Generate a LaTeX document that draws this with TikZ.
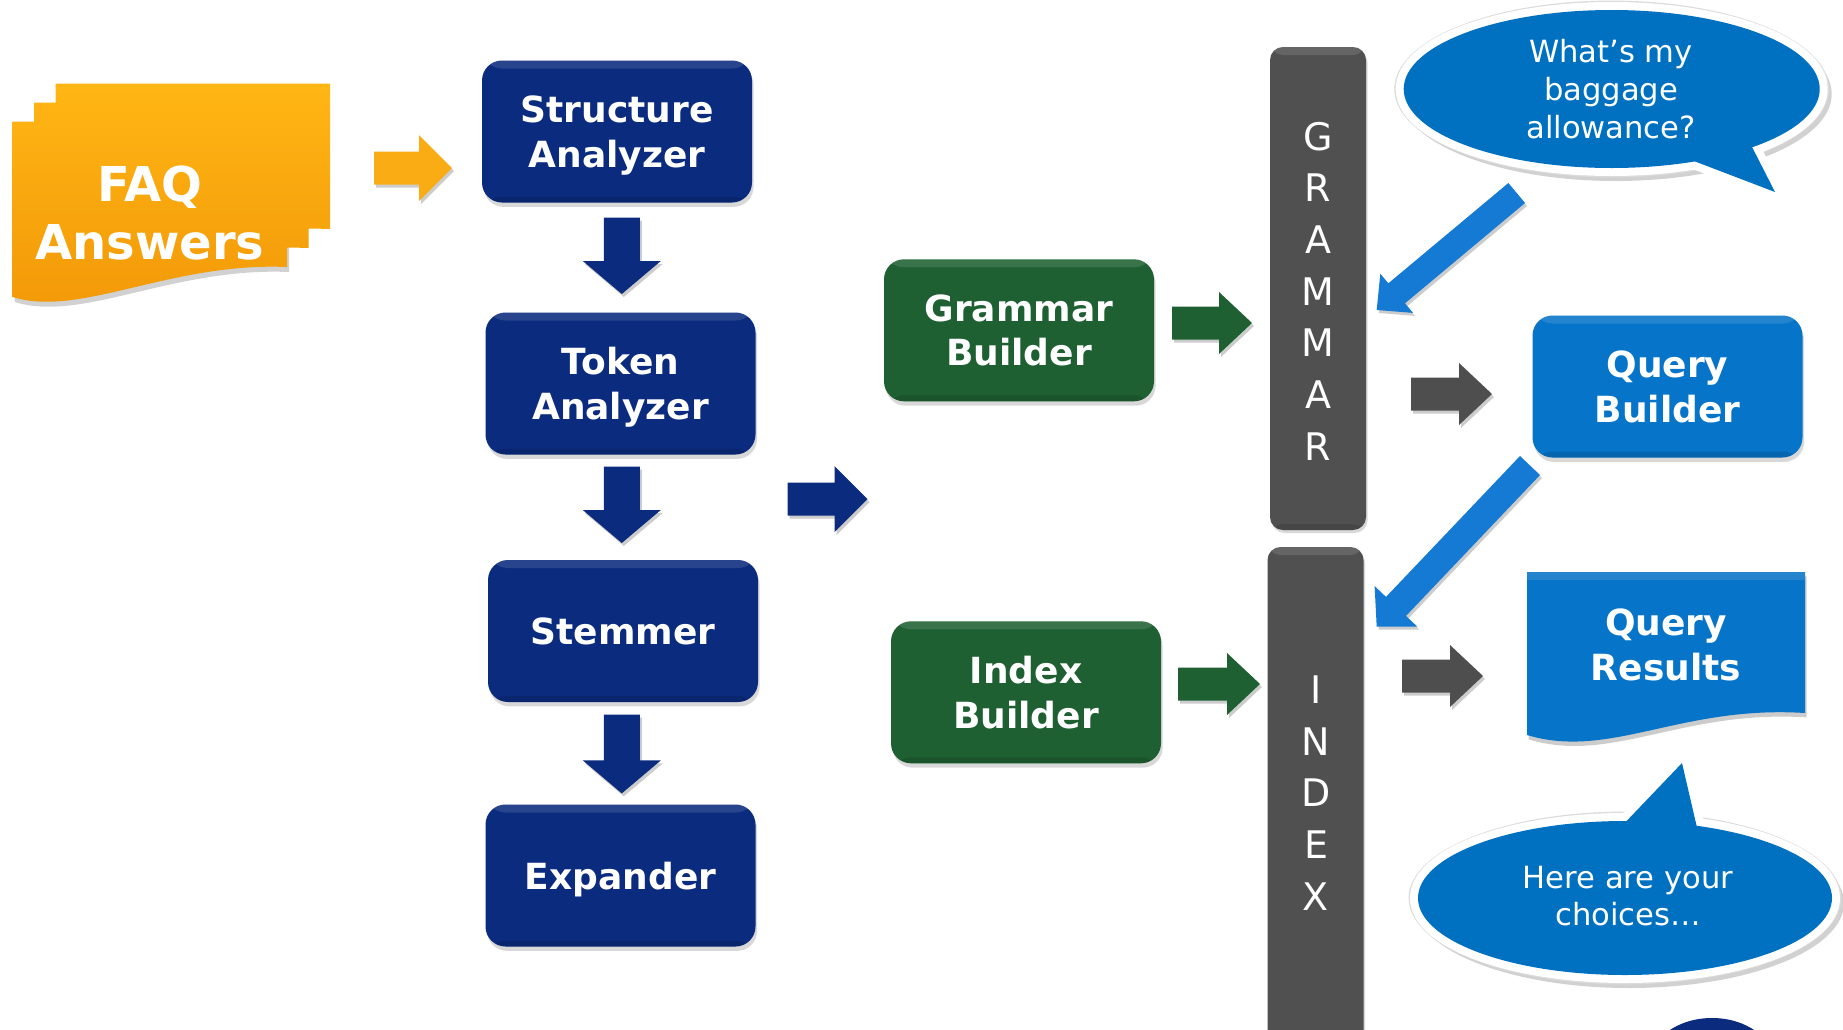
\documentclass[tikz,border=0pt]{standalone}
\usepackage{fontspec}
\setmainfont{DejaVu Sans}
\usetikzlibrary{calc,shadows}
\definecolor{navy}{RGB}{11,43,126}
\definecolor{dgreen}{RGB}{30,96,50}
\definecolor{bargrey}{RGB}{80,80,80}
\definecolor{agrey}{RGB}{78,78,78}
\definecolor{qblue}{RGB}{6,116,200}
\definecolor{bblue}{RGB}{0,112,192}
\definecolor{darrow}{RGB}{20,122,212}
\definecolor{orangeT}{RGB}{255,182,20}
\definecolor{orangeB}{RGB}{242,152,8}
\definecolor{orangeA}{RGB}{250,172,20}

\tikzset{
  bevel/.style={path picture={
    \fill[white, opacity=0.12] (path picture bounding box.north west) rectangle ([yshift=-4pt]path picture bounding box.north east);
    \fill[black, opacity=0.12] ([yshift=3pt]path picture bounding box.south west) rectangle (path picture bounding box.south east);}},
  box/.style={rectangle, rounded corners=10pt, minimum width=135pt, minimum height=71pt,
    text=white, font=\bfseries\fontsize{18}{22.3}\selectfont, align=center, bevel, text depth=0pt,
    drop shadow={shadow xshift=0.8pt, shadow yshift=-2.2pt, opacity=0.3}},
  navybox/.style={box, fill=navy},
  greenbox/.style={box, fill=dgreen},
  qbox/.style={box, fill=qblue},
  bar/.style={rectangle, rounded corners=6.5pt, fill=bargrey, minimum width=48pt, inner sep=0pt, bevel,
    drop shadow={shadow xshift=0.8pt, shadow yshift=-1.5pt, opacity=0.3}},
  barlabel/.style={text=white, font=\fontsize{19}{25.85}\selectfont, align=center, inner sep=0pt},
  bubbletext/.style={text=white, font=\fontsize{15.3}{18.8}\selectfont, align=center, inner sep=0pt},
  doctext/.style={text=white, font=\bfseries\fontsize{18}{22.3}\selectfont, align=center, inner sep=0pt},
  faqtext/.style={text=white, font=\bfseries\fontsize{24}{28.8}\selectfont, align=center, inner sep=0pt},
  arrowshadow/.style={preaction={fill=black, opacity=0.2, transform canvas={xshift=1pt, yshift=-1.5pt}}},
  bubbleborder/.style={draw=white, line width=8pt},
  bubbleshadow/.style={fill=black, opacity=0.18},
  bubblehalo/.style={draw=black!14, line width=0.8pt},
}

% block arrow: #1 style, #2 start, #3 tip, #4 shaft half width, #5 head half width, #6 head length
\newcommand\blockarrow[6]{%
  \coordinate (ba-h) at ($(#3)!#6!(#2)$);
  \fill[#1, arrowshadow] ($(#2)!#4!90:(#3)$) -- ($(ba-h)!#4!90:(#3)$) -- ($(ba-h)!#5!90:(#3)$)
     -- (#3) -- ($(ba-h)!#5!-90:(#3)$) -- ($(ba-h)!#4!-90:(#3)$) -- ($(#2)!#4!-90:(#3)$) -- cycle;
}

\begin{document}
\begin{tikzpicture}[x=0.5pt, y=-0.5pt]
\useasboundingbox (0,0) rectangle (1843,1029);
\clip (0,0) rectangle (1843,1029);
\fill[white] (0,0) rectangle (1843,1029);

% ---------- FAQ Answers (stacked documents, one merged shape)
\fill[black, opacity=0.18, transform canvas={xshift=1pt, yshift=-2.5pt}]
  (12.7,121.7) -- (287,121.7) -- (287,267) .. controls (170,262) and (80,318) .. (12.7,297) -- cycle;
\path[top color=orangeT, bottom color=orangeB, nonzero rule]
  (55.7,83.7) -- (330,83.7) -- (330,229) .. controls (213,224) and (123,280) .. (55.7,259) -- cycle
  (34.2,102.7) -- (308.5,102.7) -- (308.5,248) .. controls (191.5,243) and (101.5,299) .. (34.2,278) -- cycle
  (12.7,121.7) -- (287,121.7) -- (287,267) .. controls (170,262) and (80,318) .. (12.7,297) -- cycle;
\node[faqtext] (faq) at (150,213) {FAQ\\Answers};

% ---------- left column
\node[navybox] (sa) at (617,131.5) {Structure\\Analyzer};
\node[navybox] (ta) at (620.5,383.5) {Token\\Analyzer};
\node[navybox] (st) at (623,631) {Stemmer};
\node[navybox] (ex) at (620.5,875.5) {Expander};

% ---------- builders
\node[greenbox] (gb) at (1019,330.3) {Grammar\\Builder};
\node[greenbox] (ib) at (1026,692.3) {Index\\Builder};

% ---------- bars
\node[bar, minimum height=241.5pt] (gram) at (1318,288.5) {};
\node[bar, minimum height=261.5pt] (idx) at (1315.5,808.5) {};
\node[barlabel] (gramlbl) at (1318,291) {G\\R\\A\\M\\M\\A\\R};
\node[barlabel] (idxlbl) at (1316,793) {I\\N\\D\\E\\X};

% ---------- query builder
\node[qbox] (qb) at (1667.5,386.5) {Query\\Builder};

% ---------- query results (document)
\fill[black, opacity=0.2, transform canvas={xshift=0.8pt, yshift=-2.2pt}]
  (1527,572) -- (1805,572) -- (1805,713) .. controls (1680,705) and (1610,760) .. (1527,735) -- cycle;
\fill[qblue] (1527,572) -- (1805,572) -- (1805,713) .. controls (1680,705) and (1610,760) .. (1527,735) -- cycle;
\fill[white, opacity=0.12] (1527,572) rectangle (1805,580);
\node[doctext] (qr) at (1666,645) {Query\\Results};

% ---------- speech bubble 1
\begin{scope}
  \fill[bubbleshadow, transform canvas={xshift=2pt, yshift=-2.5pt}]
    (1611.7,89) ellipse [x radius=108pt, y radius=43.5pt];
  \fill[bubbleshadow, transform canvas={xshift=2pt, yshift=-2.5pt}]
    (1686,158) -- (1787,201) -- (1750,143) -- cycle;
  \path[bubblehalo] (1611.7,89) ellipse [x radius=108.3pt, y radius=43.8pt];
  \path[bubbleborder] (1611.7,89) ellipse [x radius=104pt, y radius=39.5pt];
  \path[bubbleborder] (1686,158) -- (1775,192) -- (1750,143) -- cycle;
  \fill[bblue] (1611.7,89) ellipse [x radius=104pt, y radius=39.5pt];
  \fill[bblue] (1686,158) -- (1775,192) -- (1750,143) -- cycle;
  \node[bubbletext] (q1) at (1611,89) {What’s my\\baggage\\allowance?};
\end{scope}

% ---------- speech bubble 2
\begin{scope}
  \fill[bubbleshadow, transform canvas={xshift=2pt, yshift=-2.5pt}]
    (1625,898) ellipse [x radius=107.5pt, y radius=42.5pt];
  \path[bubblehalo] (1625,898) ellipse [x radius=107.8pt, y radius=42.8pt];
  \path[bubbleborder] (1625,898) ellipse [x radius=103.5pt, y radius=38.5pt];
  \path[bubbleborder] (1618,830) -- (1682,763) -- (1698,832) -- cycle;
  \fill[bblue] (1625,898) ellipse [x radius=103.5pt, y radius=38.5pt];
  \fill[bblue] (1618,830) -- (1682,763) -- (1698,832) -- cycle;
  \node[bubbletext] (q2) at (1628,896) {Here are your\\choices…};
\end{scope}

% ---------- partial shape at bottom edge
\fill[navy] (1712,1063) ellipse [x radius=31pt, y radius=22.5pt];

% ---------- block arrows
\coordinate (oaS) at (374,168);     \coordinate (oaE) at (452,168);
\coordinate (d1S) at (621.8,217.5); \coordinate (d1E) at (621.8,294);
\coordinate (d2S) at (621.8,466.6); \coordinate (d2E) at (621.8,543);
\coordinate (d3S) at (621.8,714.7); \coordinate (d3E) at (621.8,793.4);
\coordinate (brS) at (787.5,499);   \coordinate (brE) at (867.5,499);
\coordinate (g1S) at (1172,323);    \coordinate (g1E) at (1252,323);
\coordinate (g2S) at (1178,684);    \coordinate (g2E) at (1260,684);
\coordinate (k1S) at (1411,394);    \coordinate (k1E) at (1492,394);
\coordinate (k2S) at (1402,676);    \coordinate (k2E) at (1483,676);
\coordinate (x1S) at (1516.7,193);  \coordinate (x1E) at (1376.7,310);
\coordinate (x2S) at (1530,465.5);  \coordinate (x2E) at (1376.7,626.7);

\blockarrow{fill=orangeA}{oaS}{oaE}{8.25pt}{16.5pt}{16.5pt}
\blockarrow{fill=navy}{d1S}{d1E}{9pt}{19.5pt}{16.5pt}
\blockarrow{fill=navy}{d2S}{d2E}{9pt}{19.5pt}{16.5pt}
\blockarrow{fill=navy}{d3S}{d3E}{9pt}{19.5pt}{16.5pt}
\blockarrow{fill=navy}{brS}{brE}{8.25pt}{16.5pt}{16.5pt}
\blockarrow{fill=dgreen}{g1S}{g1E}{8.25pt}{15.5pt}{16.5pt}
\blockarrow{fill=dgreen}{g2S}{g2E}{8.25pt}{15.5pt}{16.5pt}
\blockarrow{fill=agrey}{k1S}{k1E}{8.25pt}{15.5pt}{16.5pt}
\blockarrow{fill=agrey}{k2S}{k2E}{8.25pt}{15.5pt}{16.5pt}
\blockarrow{fill=darrow}{x1S}{x1E}{6.5pt}{12.75pt}{13pt}
\blockarrow{fill=darrow}{x2S}{x2E}{6.9pt}{14.75pt}{14pt}
\end{tikzpicture}
\end{document}
